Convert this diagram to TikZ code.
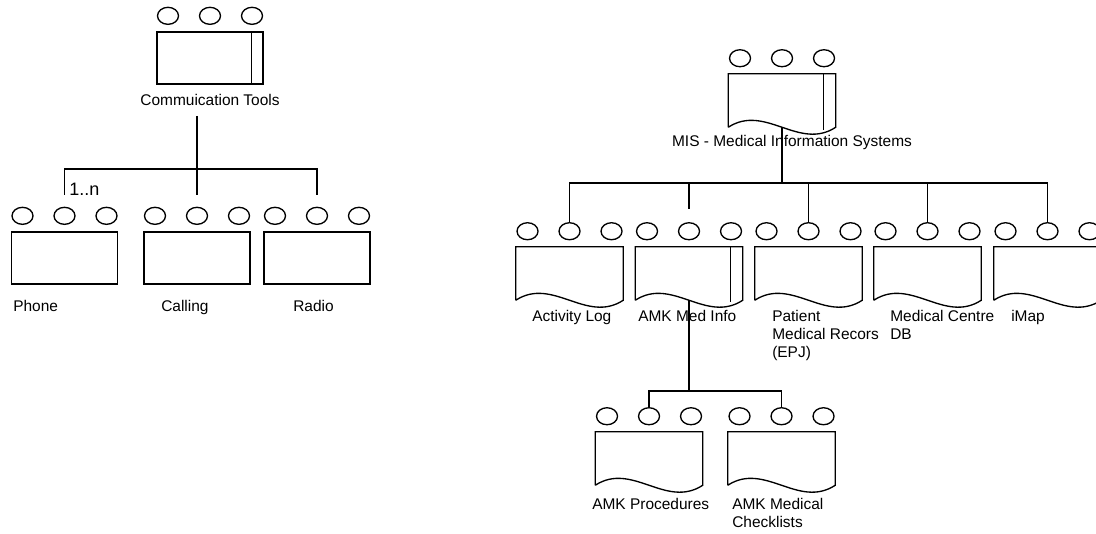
\documentclass[tikz,border=0pt]{standalone}
\usepackage{fontspec}
\setmainfont{Liberation Sans}
\usetikzlibrary{shapes,shapes.geometric,calc,positioning}
\tikzset{
  comp_box/.style = {draw, rectangle, line width=1pt, minimum width=79.5pt, minimum height=39pt, inner sep=0pt},
  doc_box/.style = {rectangle, minimum width=80.25pt, minimum height=39.75pt, inner sep=0pt},
  port/.style = {draw, ellipse, line width=1pt, minimum width=15.75pt, minimum height=12.75pt, inner sep=0pt},
  lbl/.style = {inner sep=0pt, align=left, font=\fontsize{11.6}{13.5}\selectfont},
  wire/.style = {line width=1pt}
}
% three ports on top of a component
\newcommand\ports[1]{%
  \node[port] (#1-a) at ($(#1.north)+(-42,-15.5)$) {};
  \node[port] (#1-b) at ($(#1.north)+(0,-15.5)$) {};
  \node[port] (#1-c) at ($(#1.north)+(42,-15.5)$) {};
}
% document outline with wavy bottom
\newcommand\docline[1]{%
  \draw[wire] (#1.south west) -- (#1.north west) -- (#1.north east) -- (#1.south east)
    .. controls ($(#1.south east)+(-37,24)$) and ($(#1.south west)+(37,-24)$) .. (#1.south west);
}
% inner bar on the right side
\newcommand\sidebar[2]{%
  \draw[wire] ([xshift=-9pt]#1.north east) -- ([xshift=-9pt,yshift=#2]#1.south east);
}

\begin{document}
\begin{tikzpicture}[x=0.75pt,y=-0.75pt]
\useasboundingbox (0,0) rectangle (1096,534);

% communication tools
\node[comp_box] (comm) at (210,58) {};
\ports{comm}
\sidebar{comm}{0pt}
\node[lbl] (comm-t) at (210,100) {Commuication Tools};

\node[comp_box] (phone) at (64.5,258) {};
\ports{phone}
\node[comp_box] (calling) at (197,258) {};
\ports{calling}
\node[comp_box] (radio) at (317,258) {};
\ports{radio}

\node[lbl, anchor=base west] (phone-t) at (13,312) {Phone};
\node[lbl, anchor=base west] (calling-t) at (161,312) {Calling};
\node[lbl, anchor=base west] (radio-t) at (293,312) {Radio};

\coordinate (comm-top) at (197,116);
\coordinate (comm-bus) at (197,169);
\coordinate (phone-in) at ($(phone-b.north)+(0,-12)$);
\coordinate (calling-in) at ($(calling-b.north)+(0,-12)$);
\coordinate (radio-in) at ($(radio-b.north)+(0,-12)$);
\draw[wire] (comm-top) -- (comm-bus);
\draw[wire] (phone-in) |- (comm-bus) -| (radio-in);
\draw[wire] (comm-bus) -- (calling-in);
\node[inner sep=0pt, anchor=west, font=\fontsize{13.5}{15}\selectfont] (mult) at (69,189) {1..n};

% medical information systems
\node[doc_box] (mis) at (782,100.5) {};
\docline{mis}
\ports{mis}
\sidebar{mis}{-2pt}
\node[lbl] (mis-t) at (792,143) {MIS - Medical Information Systems};

\node[doc_box] (activity) at (569.5,273.5) {};
\docline{activity}
\ports{activity}
\node[doc_box] (amk) at (689,273.5) {};
\docline{amk}
\ports{amk}
\sidebar{amk}{-1.5pt}
\node[doc_box] (patient) at (808.5,273.5) {};
\docline{patient}
\ports{patient}
\node[doc_box] (medc) at (927.5,273.5) {};
\docline{medc}
\ports{medc}
\node[doc_box] (imap) at (1047.5,273.5) {};
\docline{imap}
\ports{imap}

\node[lbl, anchor=north west] (activity-t) at (532,310) {Activity Log};
\node[lbl, anchor=north west] (amk-t) at (638,310) {AMK Med Info};
\node[lbl, anchor=north west] (patient-t) at (772,310) {Patient\\Medical Recors\\(EPJ)};
\node[lbl, anchor=north west] (medc-t) at (890,310) {Medical Centre\\DB};
\node[lbl, anchor=north west] (imap-t) at (1011,310) {iMap};

\coordinate (mis-bus) at (782,183);
\coordinate (amk-in) at ($(amk-b.north)+(0,-13.5)$);
\draw[wire] (mis.south) -- (mis-bus);
\draw[wire] (activity-b.north) |- (mis-bus) -| (imap-b.north);
\draw[wire] (amk-in) -- (amk-in |- mis-bus);
\draw[wire] (patient-b.north) -- (patient-b.north |- mis-bus);
\draw[wire] (medc-b.north) -- (medc-b.north |- mis-bus);

% AMK sub documents
\node[doc_box] (amkp) at (649,458.5) {};
\docline{amkp}
\ports{amkp}
\node[doc_box] (amkc) at (781.5,458.5) {};
\docline{amkc}
\ports{amkc}

\node[lbl, anchor=north west] (amkp-t) at (592,498) {AMK Procedures};
\node[lbl, anchor=north west] (amkc-t) at (732,498) {AMK Medical\\Checklists};

\coordinate (amk-bus) at (689,391);
\draw[wire] (amk.south) -- (amk-bus);
\draw[wire] (amkp-b.north) |- (amk-bus) -| (amkc-b.north);
\end{tikzpicture}
\end{document}
